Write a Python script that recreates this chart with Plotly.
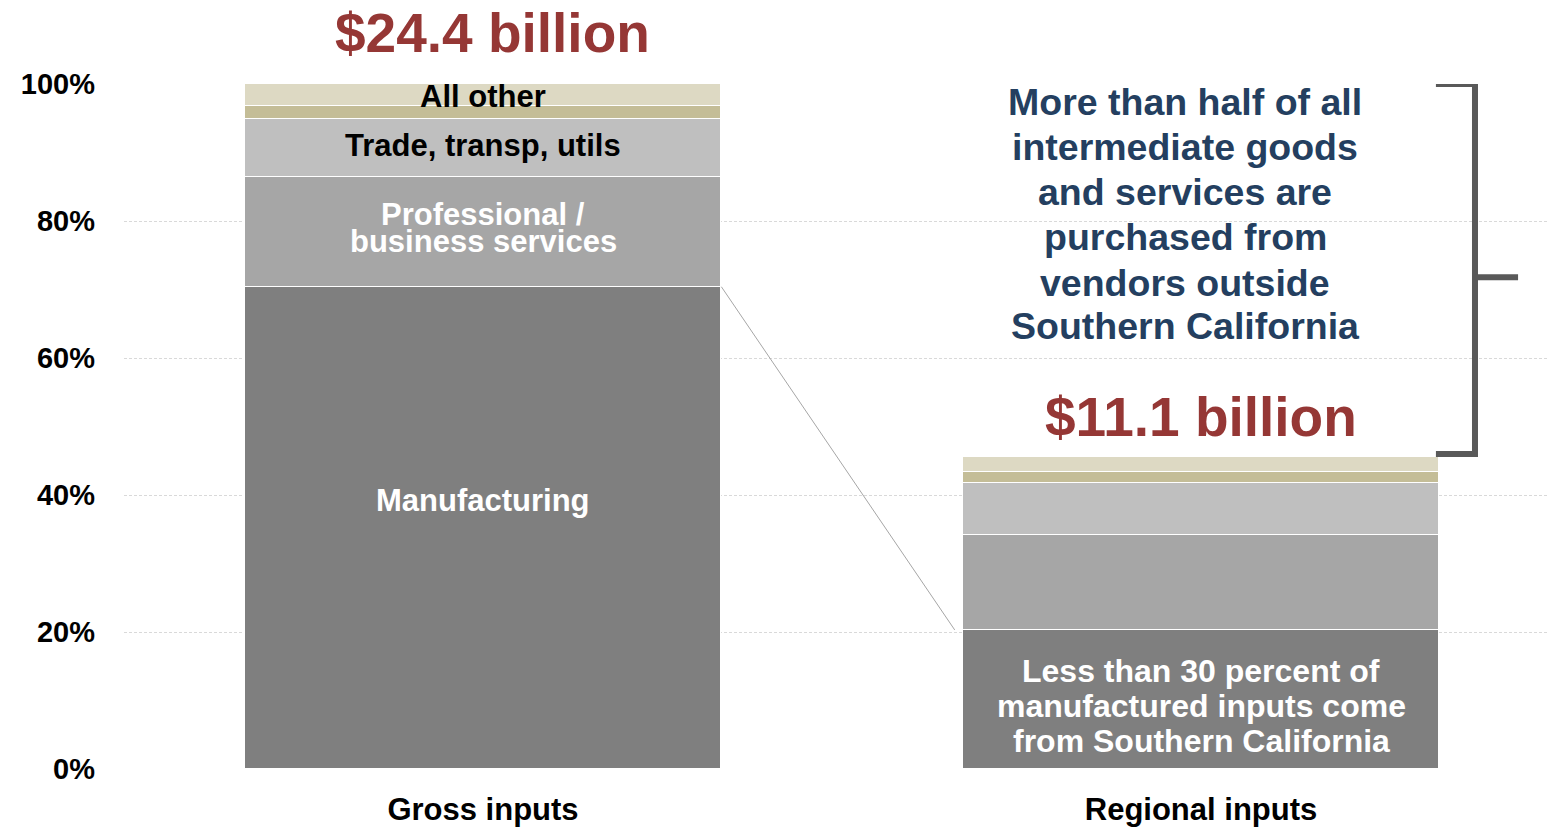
import plotly.graph_objects as go

categories = ["Gross inputs", "Regional inputs"]
segments = ["Manufacturing", "Professional / business services", "Trade, transp, utils", "Other sector", "All other"]
manufacturing = [70.4, 20.3]
professional = [16.0, 13.9]
trade = [8.5, 7.6]
other_sector = [1.9, 1.6]
all_other = [3.2, 2.1]
totals_label = ["$24.4 billion", "$11.1 billion"]
tick_vals = [0, 20, 40, 60, 80, 100]
tick_text = ["0%", "20%", "40%", "60%", "80%", "100%"]
note_lines = ["More than half of all", "intermediate goods", "and services are",
              "purchased from", "vendors outside", "Southern California"]
mfg_note_lines = ["Less than 30 percent of", "manufactured inputs come", "from Southern California"]

colors = ["#7F7F7F", "#A6A6A6", "#BFBFBF", "#C4BD97", "#DDD9C3"]
series = [manufacturing, professional, trade, other_sector, all_other]
FONT = "Liberation Sans, Arial, sans-serif"
BAR_W = 0.664

fig = go.Figure()
for name, vals, col in zip(segments, series, colors):
    fig.add_trace(go.Bar(
        x=categories, y=vals, name=name, width=BAR_W,
        marker=dict(color=col, line=dict(color="white", width=1.5)),
        hoverinfo="skip", showlegend=False,
    ))

# cumulative positions
cum = []
for i in range(len(categories)):
    c, acc = [], 0.0
    for s in series:
        c.append((acc, acc + s[i]))
        acc += s[i]
    cum.append(c)
totals = [cum[i][-1][1] for i in range(len(categories))]

ann = []
def lab(x, y, text, size, color):
    ann.append(dict(x=x, y=y, xref="x", yref="y", text="<b>" + text + "</b>",
                    font=dict(size=size, color=color, family=FONT), showarrow=False,
                    xanchor="center", yanchor="middle"))

# labels in left bar
lab(0, sum(cum[0][4]) / 2 - 0.2, "All other", 31, "black")
lab(0, sum(cum[0][2]) / 2 + 0.4, "Trade, transp, utils", 31, "black")
lab(0, sum(cum[0][1]) / 2 + 2.5, "Professional /", 31, "white")
lab(0, sum(cum[0][1]) / 2 - 1.4, "business services", 31, "white")
lab(0, sum(cum[0][0]) / 2 + 4.0, "Manufacturing", 31, "white")
# labels in right bar
mid = sum(cum[1][0]) / 2 - 1.0
for k, line in enumerate(mfg_note_lines):
    lab(1, mid + (1 - k) * 5.1, line, 32, "white")
# totals
ann.append(dict(x=0.0126, xref="x", y=1.074, yref="paper", yanchor="middle", text="<b>" + totals_label[0] + "</b>",
                font=dict(size=55, color="#953735", family=FONT), showarrow=False))
ann.append(dict(x=1.0, xref="x", y=(totals[1] + 5.9) / 100, yref="paper", yanchor="middle", text="<b>" + totals_label[1] + "</b>",
                font=dict(size=55, color="#953735", family=FONT), showarrow=False))
# blue note
note_y = [97.4, 90.8, 84.2, 77.6, 71.0, 64.7]
for line, yy in zip(note_lines, note_y):
    lab(0.978, yy, line, 37.5, "#243F60")

shapes = []
# connector line
shapes.append(dict(type="line", xref="x", yref="y",
                   x0=0 + BAR_W / 2, y0=cum[0][0][1],
                   x1=1 - BAR_W / 2 - 0.011, y1=cum[1][0][1],
                   line=dict(color="#A6A6A6", width=1)))
# bracket
xl, xm, xr = 0.9136, 0.9408, 0.9708
shapes.append(dict(type="path", xref="paper", yref="y",
                   path=f"M {xl} 100 L {xm} 100 L {xm} 46 L {xl} 46",
                   line=dict(color="#595959", width=6)))
shapes.append(dict(type="line", xref="paper", yref="y", x0=xm, x1=xr, y0=71.8, y1=71.8,
                   line=dict(color="#595959", width=6)))

fig.update_layout(
    width=1556, height=827,
    margin=dict(l=116, r=4, t=76, b=66),
    paper_bgcolor="white", plot_bgcolor="white",
    barmode="stack", bargap=0,
    annotations=ann, shapes=shapes,
    xaxis=dict(range=[-0.5, 1.5], showgrid=False, zeroline=False, showline=False,
               tickfont=dict(size=31, color="black", family=FONT),
               tickvals=categories, ticktext=["<b>" + c + "</b>" for c in categories],
               ticks="", ticklabelstandoff=19),
    yaxis=dict(range=[0, 100], tickvals=tick_vals, ticktext=["<b>" + t + "</b>" for t in tick_text],
               showgrid=True, gridcolor="#D9D9D9", gridwidth=1, griddash="3px,2px",
               zeroline=False, showline=False, ticks="",
               tickfont=dict(size=29, color="black", family=FONT), ticklabelstandoff=28),
)

fig.write_html("out.html")
